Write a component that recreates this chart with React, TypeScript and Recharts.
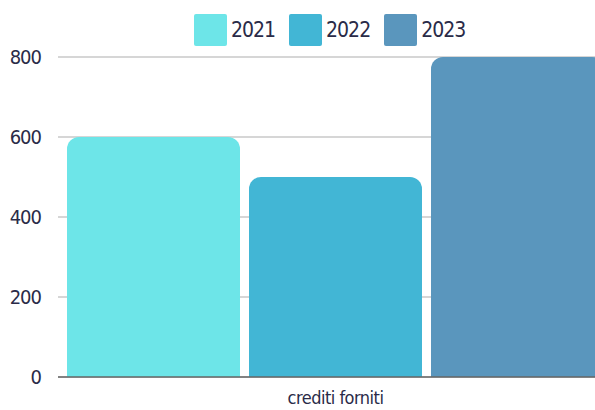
import { BarChart, Bar, XAxis, YAxis, CartesianGrid, Legend } from 'recharts';

const categories = ['crediti forniti'];
const years = ['2021', '2022', '2023'];
const values2021 = [600];
const values2022 = [500];
const values2023 = [800];
const yTicks = [0, 200, 400, 600, 800];

const COLORS: Record<string, string> = {
  '2021': '#6de5e8',
  '2022': '#42b6d5',
  '2023': '#5a96bd',
};

const FONT = "'DejaVu Sans', sans-serif";
const TEXT = '#2a2b48';

const data = categories.map((name, i) => ({
  name,
  '2021': values2021[i],
  '2022': values2022[i],
  '2023': values2023[i],
}));

function LegendRow() {
  return (
    <div style={{ display: 'flex', alignItems: 'center', gap: 14, fontFamily: FONT, fontStretch: 'condensed' }}>
      {years.map((y) => (
        <div key={y} style={{ display: 'flex', alignItems: 'center', gap: 4 }}>
          <div style={{ width: 33, height: 32, borderRadius: 2, backgroundColor: COLORS[y] }} />
          <span style={{ fontSize: 21, color: TEXT, letterSpacing: -1 }}>{y}</span>
        </div>
      ))}
    </div>
  );
}

export default function App() {
  return (
    <div
      style={{
        position: 'absolute',
        left: 0,
        top: 0,
        width: 595,
        height: 410,
        overflow: 'hidden',
        background: '#fff',
        fontFamily: FONT,
        fontStretch: 'condensed',
      }}
    >
      <BarChart
        width={613}
        height={410}
        data={data}
        margin={{ top: 57, right: 0, left: 0, bottom: 3 }}
        barCategoryGap={9}
        barGap={9}
        style={{ fontFamily: FONT, fontStretch: 'condensed' }}
      >
        <CartesianGrid vertical={false} stroke="#c8c8c8" strokeWidth={1.5} />
        <XAxis
          dataKey="name"
          height={30}
          axisLine={{ stroke: '#666', strokeWidth: 1.5 }}
          tickLine={false}
          tick={{ fill: TEXT, fontSize: 18, fontFamily: FONT, letterSpacing: -0.5 }}
          tickMargin={8}
        />
        <YAxis
          width={58}
          domain={[0, 800]}
          ticks={yTicks}
          axisLine={false}
          tickLine={false}
          tick={{ fill: TEXT, fontSize: 20, fontFamily: FONT, letterSpacing: -1 }}
          tickMargin={11}
        />
        <Legend
          verticalAlign="middle"
          align="center"
          layout="horizontal"
          wrapperStyle={{ top: 14, left: 194, width: 'auto' }}
          content={() => <LegendRow />}
        />
        {years.map((y) => (
          <Bar key={y} dataKey={y} fill={COLORS[y]} radius={[12, 12, 0, 0]} isAnimationActive={false} />
        ))}
      </BarChart>
    </div>
  );
}
